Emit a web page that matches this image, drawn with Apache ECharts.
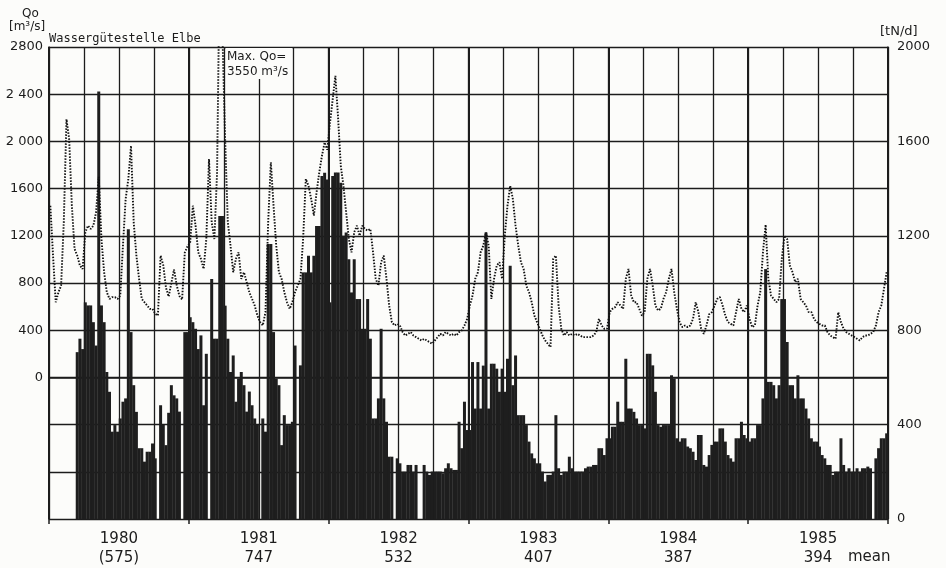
<!DOCTYPE html>
<html>
<head>
<meta charset="utf-8">
<script src="https://cdn.jsdelivr.net/npm/echarts@6/dist/echarts.min.js"></script>
<style>
  html, body { margin: 0; padding: 0; background: #fcfcfa; }
  #chart { width: 946px; height: 568px; }
</style>
</head>
<body>
<div id="chart"></div>
<script>
// Weekly nitrogen load (tN/d) and discharge Qo (m³/s), 52 weeks per year
const years = [1980, 1981, 1982, 1983, 1984, 1985];
const yearMeans = ['(575)', '747', '532', '407', '387', '394'];

const load1980 = [null, null, null, null, null, null, null, null, null, null,
  707, 764, 720, 918, 905, 905, 834, 735, 1811, 905, 834, 623, 539, 370, 398, 370,
  426, 497, 511, 1228, 792, 567, 454, 300, 300, 243, 285, 285, 320, 257, null, 482,
  400, 313, 450, 567, 524, 511, 455, null, 792, 792];
const load1981 = [855, 834, 806, 720, 778, 482, 700, null, 1017, 764, 764, 1284, 1284,
  904, 764, 623, 693, 497, 595, 623, 567, 455, 540, 482, 426, 400, null, 426, 370,
  1165, 1165, 792, 595, 567, 313, 440, 398, 398, 412, 735, null, 651, 1045, 1045,
  1115, 1045, 1115, 1242, 1242, 1453, 1467, 1439];
const load1982 = [918, 1453, 1468, 1468, 1425, 1200, 1214, 1101, 960, 1101, 932, 932,
  806, 806, 932, 764, 426, 426, 511, 806, 511, 412, 264, 264, null, 257, 236, 201,
  201, 229, 229, 201, 229, null, null, 229, 201, 187, 201, 201, 201, 201, 194, 215,
  236, 215, 208, 208, 412, 300, 497, 377];
const load1983 = [377, 665, 468, 665, 468, 650, 1214, 468, 658, 658, 637, 539, 637,
  539, 679, 1073, 567, 693, 440, 440, 440, 398, 328, 278, 257, 236, 236, 201, 159,
  187, 187, 201, 440, 215, 187, 201, 201, 264, 215, 201, 201, 201, 201, 215, 222,
  222, 229, 229, 300, 300, 271, 342];
const load1984 = [342, 391, 391, 497, 412, 412, 679, 468, 468, 454, 426, 398, 398,
  384, 700, 700, 651, 539, 398, 391, 398, 398, 398, 609, 595, 342, 328, 342, 342,
  307, 300, 285, 250, 356, 356, 229, 222, 271, 314, 328, 328, 384, 384, 328, 271,
  257, 243, 342, 342, 412, 356, 342];
const load1985 = [328, 342, 342, 398, 398, 511, 1059, 581, 581, 567, 511, 567, 932,
  932, 750, 567, 567, 511, 609, 511, 511, 468, 426, 342, 328, 328, 307, 271, 257,
  229, 229, 187, 201, 201, 342, 229, 201, 215, 201, 201, 215, 201, 215, 215, 222,
  215, null, 257, 300, 342, 342, 363];

const qo1980 = [1455, 1032, 637, 720, 778, 1314, 2188, 2019, 1455, 1089, 1032, 948,
  919, 1230, 1286, 1258, 1286, 1399, 1700, 1173, 891, 722, 665, 680, 680, 665, 694,
  1117, 1512, 1681, 1963, 1314, 1032, 835, 665, 637, 609, 581, 581, 539, 524, 1032,
  950, 760, 685, 800, 914, 780, 690, 660, 1057, 1110];
const qo1981 = [1145, 1455, 1286, 1060, 1004, 919, 1173, 1850, 1314, 1173, 1737, 3550,
  2900, 2019, 1314, 1117, 891, 1004, 1060, 835, 891, 807, 722, 665, 609, 524, 468,
  440, 553, 1314, 1822, 1455, 1117, 891, 835, 722, 637, 581, 637, 722, 778, 835,
  1173, 1681, 1624, 1512, 1371, 1568, 1737, 1878, 1991, 1929];
const qo1982 = [2160, 2357, 2555, 2200, 1794, 1624, 1399, 1173, 1060, 1230, 1286,
  1201, 1286, 1258, 1244, 1258, 1060, 835, 778, 976, 1032, 835, 609, 468, 440, 454,
  440, 384, 355, 369, 384, 355, 341, 327, 313, 327, 313, 299, 285, 313, 341, 369,
  355, 384, 369, 355, 369, 355, 384, 398, 440, 496];
const qo1983 = [609, 694, 835, 891, 1060, 1117, 1229, 1117, 665, 835, 948, 976, 835,
  1201, 1455, 1624, 1512, 1286, 1117, 976, 919, 778, 722, 637, 524, 468, 412, 355,
  313, 285, 257, 1004, 1032, 609, 412, 355, 384, 355, 369, 355, 369, 355, 341, 341,
  341, 341, 355, 384, 496, 440, 412, 412];
const qo1984 = [553, 581, 595, 637, 609, 581, 835, 919, 694, 637, 637, 581, 524, 553,
  835, 919, 778, 609, 567, 581, 665, 722, 835, 919, 722, 581, 468, 426, 440, 426,
  440, 496, 637, 553, 412, 369, 440, 536, 553, 609, 665, 680, 609, 524, 468, 454,
  440, 553, 665, 581, 553, 609];
const qo1985 = [496, 426, 440, 609, 722, 1060, 1294, 835, 694, 665, 637, 665, 1004,
  1201, 1173, 948, 891, 807, 835, 665, 637, 609, 553, 553, 496, 468, 454, 440, 440,
  384, 355, 341, 327, 553, 468, 412, 384, 369, 355, 341, 327, 313, 341, 355, 355,
  369, 384, 440, 553, 609, 750, 891];

const qoTickLabels = { 0: '0', 400: '400', 800: '800', 1200: '1200', 1600: '1600',
  2000: '2 000', 2400: '2 400', 2800: '2800' };
const loadTickLabels = [0, 400, 800, 1200, 1600, 2000];

const loadByYear = [load1980, load1981, load1982, load1983, load1984, load1985];
const qoByYear = [qo1980, qo1981, qo1982, qo1983, qo1984, qo1985];

function toPairs(byYear) {
  const out = [];
  byYear.forEach((arr, k) => {
    arr.forEach((v, i) => {
      if (v !== null) out.push([years[k] + (i + 0.5) / 52, v]);
    });
  });
  return out;
}

const ink = '#1c1c1c';
const bg = '#fcfcfa';
const font = 'DejaVu Sans';

const chart = echarts.init(document.getElementById('chart'), null, { renderer: 'canvas' });

chart.setOption({
  backgroundColor: bg,
  animation: false,
  textStyle: { fontFamily: font, color: ink },
  grid: { left: 49, right: 58, top: 47, bottom: 47, containLabel: false },
  xAxis: [
    {
      type: 'value', min: 1980, max: 1986, interval: 0.25,
      axisLine: { show: true, lineStyle: { color: ink, width: 1.5 } },
      axisTick: { show: false },
      splitLine: { show: true, lineStyle: { color: ink, width: 1.3 } },
      axisLabel: {
        show: true, margin: 11, fontSize: 15, lineHeight: 19, color: ink, fontFamily: font,
        formatter: function (v) {
          const frac = v - Math.floor(v);
          if (Math.abs(frac - 0.5) > 1e-6) return '';
          const k = Math.floor(v) - years[0];
          if (k < 0 || k >= years.length) return '';
          return years[k] + '\n' + yearMeans[k];
        }
      }
    },
    {
      type: 'value', min: 1980, max: 1986, interval: 1, position: 'bottom', offset: 0,
      axisLine: { show: false },
      axisTick: { show: true, length: 5, lineStyle: { color: ink, width: 1.5 } },
      splitLine: { show: true, lineStyle: { color: ink, width: 2 } },
      axisLabel: { show: false }
    }
  ],
  yAxis: [
    {
      type: 'value', min: -1200, max: 2800, interval: 400, position: 'left',
      axisLine: { show: true, lineStyle: { color: ink, width: 1.5 } },
      axisTick: { show: false },
      splitLine: { show: false },
      axisLabel: {
        margin: 6, fontSize: 13, color: ink, fontFamily: font,
        formatter: v => (v in qoTickLabels ? qoTickLabels[v] : '')
      }
    },
    {
      type: 'value', min: 0, max: 2000, interval: 200, position: 'right',
      axisLine: { show: true, lineStyle: { color: ink, width: 1.5 } },
      axisTick: { show: false },
      splitLine: { show: true, lineStyle: { color: ink, width: 1.3 } },
      axisLabel: {
        margin: 9, fontSize: 13, color: ink, fontFamily: font,
        formatter: v => (loadTickLabels.indexOf(v) >= 0 ? String(v) : '')
      }
    }
  ],
  series: [
    {
      name: 'N-Fracht', type: 'bar', xAxisIndex: 0, yAxisIndex: 1,
      data: toPairs(loadByYear), barWidth: 3,
      itemStyle: { color: '#1e1e1e' }, emphasis: { disabled: true }
    },
    {
      name: 'Qo', type: 'line', xAxisIndex: 0, yAxisIndex: 0,
      data: toPairs(qoByYear), symbol: 'none', smooth: false, clip: true,
      lineStyle: { color: '#111', width: 1.9, type: [1.5, 1.5] },
      emphasis: { disabled: true }
    }
  ],
  graphic: [
    { type: 'text', left: 22, top: 8, style: { text: 'Qo', font: '12px "DejaVu Sans"', fill: ink } },
    { type: 'text', left: 9, top: 21, style: { text: '[m³/s]', font: '12px "DejaVu Sans"', fill: ink } },
    { type: 'text', left: 49, top: 33, style: { text: 'Wassergütestelle Elbe', font: '12px "DejaVu Sans Mono"', fill: ink } },
    { type: 'rect', shape: { x: 226, y: 48, width: 66, height: 31 }, style: { fill: bg }, z: 10 },
    { type: 'text', left: 227, top: 51, z: 11, style: { text: 'Max. Qo=', font: '12px "DejaVu Sans"', fill: ink } },
    { type: 'text', left: 227, top: 66, z: 11, style: { text: '3550 m³/s', font: '12px "DejaVu Sans"', fill: ink } },
    { type: 'text', left: 880, top: 25, style: { text: '[tN/d]', font: '13px "DejaVu Sans"', fill: ink } },
    { type: 'text', left: 848, top: 550, style: { text: 'mean', font: '15px "DejaVu Sans"', fill: ink } }
  ]
});
</script>
</body>
</html>
